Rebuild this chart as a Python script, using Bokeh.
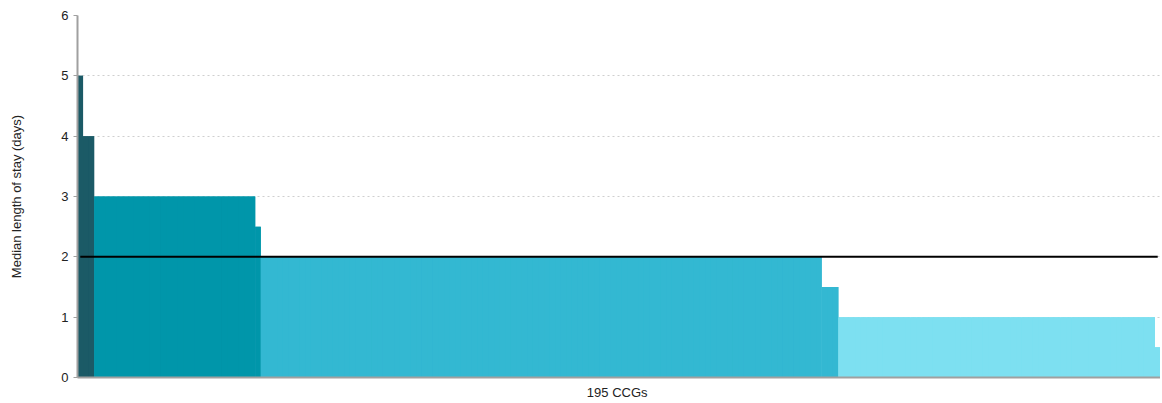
from bokeh.plotting import figure
from bokeh.embed import file_html
from bokeh.resources import INLINE
from bokeh.models import Range1d, FixedTicker, ColumnDataSource

# Data: median length of stay per CCG (195 CCGs, sorted descending)
levels = [5, 4, 3, 2.5, 2, 1.5, 1, 0.5]
counts = [1, 2, 29, 1, 101, 3, 57, 1]
level_colors = ["#1B5A66", "#1B5A66", "#0096AA", "#0096AA",
                "#33B8D2", "#33B8D2", "#7DE0F1", "#7DE0F1"]
benchmark = 2
x_label = "195  CCGs"
y_label = "Median length of stay (days)"
y_ticks = [0, 1, 2, 3, 4, 5, 6]

values = []
colors = []
for lv, c, col in zip(levels, counts, level_colors):
    values += [lv] * c
    colors += [col] * c
n = len(values)
xs = [i + 0.5 for i in range(n)]

# group extents (for a seamless backing fill under the individual bars)
lefts, rights = [], []
start = 0
for c in counts:
    lefts.append(start)
    rights.append(start + c)
    start += c

src = ColumnDataSource(dict(x=xs, top=values, color=colors))
grp = ColumnDataSource(dict(left=lefts, right=rights, top=levels, color=level_colors))

p = figure(width=1160, height=402, output_backend="svg", toolbar_location=None,
           x_range=Range1d(0, n), y_range=Range1d(0, 6),
           min_border_left=77, min_border_right=0, min_border_top=15,
           min_border_bottom=22)
p.outline_line_color = None
p.background_fill_color = "white"

p.quad(left="left", right="right", top="top", bottom=0, fill_color="color",
       line_color=None, source=grp)
p.vbar(x="x", top="top", width=1.0, bottom=0, fill_color="color",
       line_color=None, source=src)

p.line([xs[0], xs[-1]], [benchmark, benchmark], line_color="black", line_width=2)

# grid
p.xgrid.grid_line_color = None
p.ygrid.ticker = FixedTicker(ticks=y_ticks)
p.ygrid.grid_line_color = "#CFCFCF"
p.ygrid.grid_line_dash = "2 3"
p.ygrid.grid_line_width = 1

# y axis
p.yaxis.ticker = FixedTicker(ticks=y_ticks)
p.yaxis.axis_label = y_label
p.yaxis.axis_label_text_font = "Liberation Sans"
p.yaxis.axis_label_text_font_size = "13px"
p.yaxis.axis_label_text_font_style = "normal"
p.yaxis.axis_label_text_color = "#222222"
p.yaxis.axis_label_standoff = 34
p.yaxis.major_label_text_font = "Liberation Sans"
p.yaxis.major_label_text_font_size = "13px"
p.yaxis.major_label_text_color = "#222222"
p.yaxis.major_label_standoff = 5
p.yaxis.axis_line_color = "#A0A0A0"
p.yaxis.axis_line_width = 2
p.yaxis.major_tick_line_color = "#A0A0A0"
p.yaxis.major_tick_out = 4
p.yaxis.major_tick_in = 0
p.yaxis.minor_tick_line_color = None

# x axis
p.xaxis.ticker = FixedTicker(ticks=[])
p.xaxis.axis_label = x_label
p.xaxis.axis_label_text_font = "Liberation Sans"
p.xaxis.axis_label_text_font_size = "13px"
p.xaxis.axis_label_text_font_style = "normal"
p.xaxis.axis_label_text_color = "#222222"
p.xaxis.axis_label_standoff = 7
p.xaxis.axis_line_color = "#A0A0A0"
p.xaxis.axis_line_width = 2
p.xaxis.major_tick_line_color = None
p.xaxis.minor_tick_line_color = None
p.xaxis.major_label_text_font_size = "0px"

open("out.html", "w").write(file_html(p, INLINE))
